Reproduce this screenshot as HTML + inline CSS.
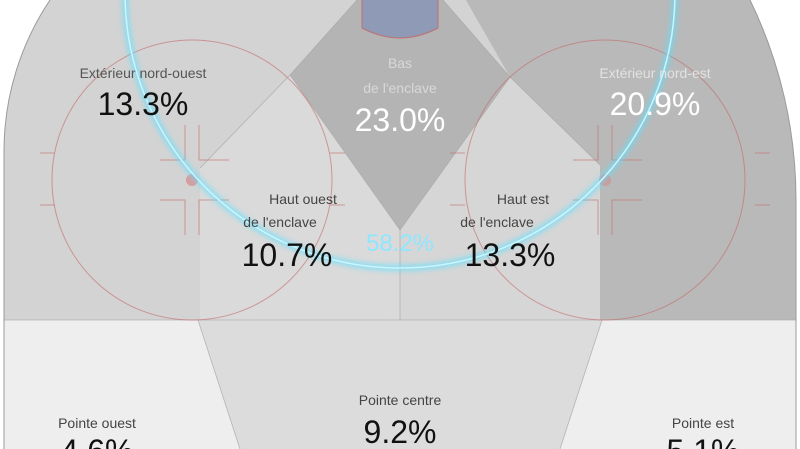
<!DOCTYPE html>
<html><head><meta charset="utf-8"><style>
html,body{margin:0;padding:0;background:#fff;overflow:hidden;width:800px;height:449px;}
svg{display:block;}
text{font-family:"Liberation Sans Narrow","Liberation Sans",sans-serif;text-anchor:middle;}
</style></head><body>
<svg width="800" height="449" viewBox="0 0 800 449" xmlns="http://www.w3.org/2000/svg">
<defs>
<clipPath id="rink"><path d="M4,449 L4,150 A272,272 0 0 0 50,0 L50,-5 L750,-5 L750,0 A458,458 0 0 1 796,200 L796,449 Z"/></clipPath>
<clipPath id="rink2"><path d="M4,449 L4,150 A272,272 0 0 1 50,0 L750,0 A458,458 0 0 1 796,200 L796,449 Z"/></clipPath>
<filter id="glow" x="-20%" y="-20%" width="140%" height="140%"><feGaussianBlur stdDeviation="3"/></filter>
</defs>
<rect width="800" height="449" fill="#fff"/>
<g clip-path="url(#rink2)">
<rect x="0" y="-40" width="800" height="500" fill="#d3d3d3"/>
<polygon points="443,-40 800,-40 800,320 600,320 600,165 510,77" fill="#b9b9b9"/>
<polygon points="357,-40 443,-40 443,0 510,77 400,230 290,75 357,0" fill="#b4b4b4"/>
<polygon points="290,75 400,230 400,320 200,320 200,168" fill="#dadada"/>
<polygon points="510,77 600,165 600,320 400,320 400,230" fill="#d6d6d6"/>
<rect x="0" y="320" width="800" height="140" fill="#eeeeee"/>
<polygon points="198,320 602,320 560,449 240,449" fill="#dcdcdc"/>
<g stroke="#a8a8a8" stroke-width="0.8" fill="none" opacity="0.8">
<line x1="0" y1="320" x2="800" y2="320"/>
<polyline points="198,320 240,449"/><polyline points="602,320 560,449"/>
<line x1="400" y1="230" x2="400" y2="320"/>
<polyline points="200,168 290,75 400,230 510,77 600,165"/>
<line x1="290" y1="75" x2="357" y2="0"/><line x1="510" y1="77" x2="443" y2="0"/>
</g>
<g stroke="#c46a6a" stroke-width="1" fill="none" opacity="0.6">
<circle cx="192" cy="180" r="140"/>
<circle cx="605" cy="180" r="140"/>
<path d="M40,153H55M40,205H55M330,153H345M330,205H345"/>
<path d="M755,153H770M755,205H770M450,153H465M450,205H465"/>
<path d="M185,125V160H160M199,125V160H229M185,235V200H160M199,235V200H229"/>
<path d="M598,125V160H573M612,125V160H642M598,235V200H573M612,235V200H642"/>
</g>
<circle cx="192" cy="180" r="6" fill="#d89090" opacity="0.8"/>
<circle cx="605" cy="180" r="6" fill="#d89090" opacity="0.8"/>
<path d="M362,-5 V28 Q400,48 438,28 V-5 Z" fill="#8e9ab6" stroke="#c07070" stroke-width="1"/>
<circle cx="400" cy="-7" r="275" fill="none" stroke="#5fe0ff" stroke-width="5" filter="url(#glow)" opacity="0.8"/>
<circle cx="400" cy="-7" r="275" fill="none" stroke="#c8f6ff" stroke-width="1.5"/>
</g>
<path d="M4,449 L4,150 A272,272 0 0 1 50,0 M750,0 A458,458 0 0 1 796,200 L796,449" fill="none" stroke="#9a9a9a" stroke-width="1"/>
<g font-size="14">
<text x="143" y="78" fill="#555">Extérieur nord-ouest</text>
<text x="655" y="78" fill="#e2e2e2">Extérieur nord-est</text>
<text x="400" y="68" fill="#d8d8d8">Bas</text>
<text x="400" y="93" fill="#d8d8d8">de l'enclave</text>
<text x="303" y="204" fill="#444">Haut ouest</text>
<text x="280" y="227" fill="#444">de l'enclave</text>
<text x="523" y="204" fill="#444">Haut est</text>
<text x="497" y="227" fill="#444">de l'enclave</text>
<text x="400" y="405" fill="#444">Pointe centre</text>
<text x="97" y="428" fill="#444">Pointe ouest</text>
<text x="703" y="428" fill="#444">Pointe est</text>
</g>
<g font-size="32">
<text x="143" y="115" fill="#111">13.3%</text>
<text x="655" y="115" fill="#fff">20.9%</text>
<text x="400" y="131" fill="#fff">23.0%</text>
<text x="287" y="266" fill="#111">10.7%</text>
<text x="510" y="266" fill="#111">13.3%</text>
<text x="400" y="443" fill="#111">9.2%</text>
<text x="97" y="462" fill="#111">4.6%</text>
<text x="703" y="462" fill="#111">5.1%</text>
</g>
<text x="400" y="251" font-size="24" fill="#8fe6ff">58.2%</text>
</svg>
</body></html>
